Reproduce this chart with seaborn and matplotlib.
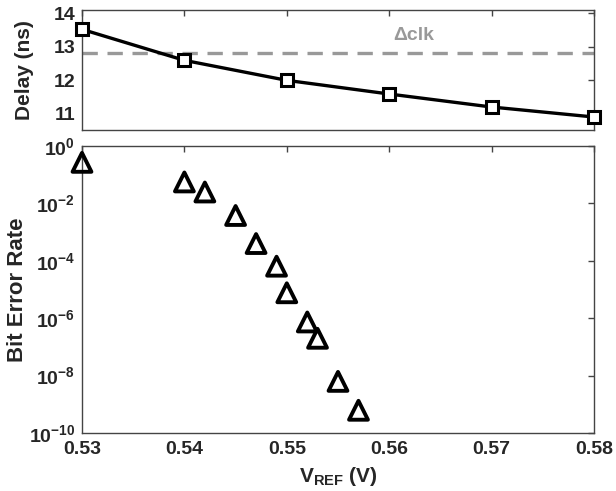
import matplotlib
matplotlib.use("Agg")
import matplotlib.pyplot as plt
import seaborn as sns

# delay vs reference voltage
vref_delay = [0.53, 0.54, 0.55, 0.56, 0.57, 0.58]
delay_ns = [13.52, 12.59, 11.99, 11.58, 11.19, 10.89]
delta_clk = 12.82

# bit error rate vs reference voltage
vref_ber = [0.53, 0.54, 0.542, 0.545, 0.547, 0.549, 0.550, 0.552, 0.553, 0.555, 0.557]
ber = [2.7e-1, 5.6e-2, 2.5e-2, 3.8e-3, 4e-4, 6.5e-5, 7.7e-6, 7.4e-7, 2e-7, 6.3e-9, 6.2e-10]

x_ticks = [0.53, 0.54, 0.55, 0.56, 0.57, 0.58]
delay_ticks = [11, 12, 13, 14]
ber_ticks = [1e0, 1e-2, 1e-4, 1e-6, 1e-8, 1e-10]

sns.set_style("white")
plt.rcParams['font.family'] = ['Liberation Sans', 'DejaVu Sans']
plt.rcParams['font.weight'] = 'bold'
plt.rcParams['axes.labelweight'] = 'bold'
plt.rcParams['mathtext.default'] = 'regular'

spine_col = '#444444'
tick_fs = 14

fig = plt.figure(figsize=(6.16, 4.91), dpi=100)
ax1 = fig.add_axes([0.1331, 0.7352, 0.8312, 0.2444])
ax2 = fig.add_axes([0.1331, 0.1181, 0.8312, 0.5845])

# top panel
ax1.axhline(delta_clk, color='#999999', lw=2.4, ls=(0, (4.6, 2.9)), zorder=1)
sns.lineplot(x=vref_delay, y=delay_ns, ax=ax1, color='k', lw=2.4,
             marker='s', markersize=9, markeredgewidth=2.2,
             markerfacecolor='white', markeredgecolor='k', clip_on=False, zorder=3)
ax1.text(0.5624, 13.34, 'Δclk', color='#999999', ha='center', va='center',
         fontsize=14, fontweight='bold')
ax1.set_xlim(0.53, 0.58)
ax1.set_ylim(10.5, 14.1)
ax1.set_xticks(x_ticks)
ax1.set_xticklabels([])
ax1.set_yticks(delay_ticks)
ax1.set_ylabel('Delay (ns)', fontsize=15)

# bottom panel
sns.scatterplot(x=vref_ber, y=ber, ax=ax2, marker='^', s=185,
                facecolors='none', edgecolor='k', linewidth=2.8,
                color='k', clip_on=False, zorder=3)
ax2.set_yscale('log')
ax2.set_xlim(0.53, 0.58)
ax2.set_ylim(1e-10, 1e0)
ax2.set_xticks(x_ticks)
ax2.set_xticklabels([f'{v:.2f}' for v in x_ticks])
ax2.set_yticks(ber_ticks)
ax2.minorticks_off()
ax2.set_ylabel('Bit Error Rate', fontsize=16)
ax2.set_xlabel(r'V$_{\mathregular{REF}}$ (V)', fontsize=15, labelpad=5)

for ax in (ax1, ax2):
    for sp in ax.spines.values():
        sp.set_color(spine_col)
        sp.set_linewidth(1.0)
    ax.tick_params(axis='both', direction='in', length=4, width=1,
                   color=spine_col, top=True, right=True, labelsize=tick_fs)
    ax.tick_params(axis='y', pad=5)
    ax.tick_params(axis='x', pad=6)

ax1.yaxis.set_label_coords(-0.094, 0.5)
ax2.yaxis.set_label_coords(-0.106, 0.5)

fig.savefig('out.png', dpi=100)
